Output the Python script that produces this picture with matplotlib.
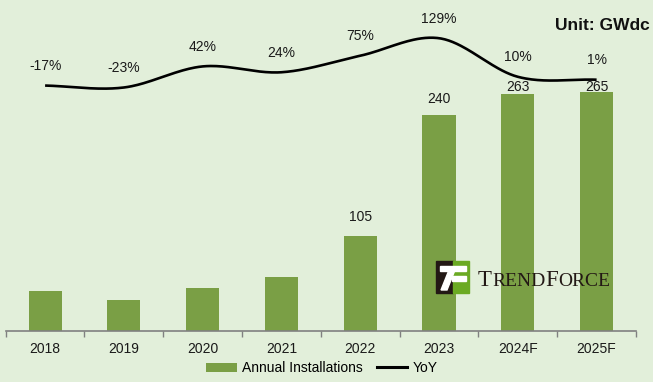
import numpy as np
import matplotlib
matplotlib.use("Agg")
import matplotlib.pyplot as plt
from matplotlib.patches import Rectangle, Polygon, Patch
from matplotlib.lines import Line2D

# data
years = ["2018", "2019", "2020", "2021", "2022", "2023", "2024F", "2025F"]
installs = [44, 34, 48, 60, 105, 240, 263, 265]
yoy = [-17, -23, 42, 24, 75, 129, 10, 1]
show_bar_label = [False, False, False, False, True, True, True, True]
# label lift above bar top, pixels (the original labels are hand placed)
bar_label_lift = [0, 0, 0, 0, 19, 16, 7, 5]

BG = "#E2EFDA"
BAR = "#7A9F45"
AXIS = "#808080"
FONT = ["Liberation Sans", "DejaVu Sans"]

W, H = 653, 382
fig = plt.figure(figsize=(W / 100, H / 100), dpi=100, facecolor=BG)


def fx(px):
    return px / W


def fy(py):
    return 1 - py / H


# smooth line like excel's "smoothed line" (catmull-rom through the points)
def smooth(xs, ys, n=40):
    pts = np.column_stack([xs, ys]).astype(float)
    p = np.vstack([2 * pts[0] - pts[1], pts, 2 * pts[-1] - pts[-2]])
    t = np.linspace(0, 1, n, endpoint=False)[:, None]
    out = []
    for i in range(1, len(p) - 2):
        p0, p1, p2, p3 = p[i - 1], p[i], p[i + 1], p[i + 2]
        out.append(0.5 * (2 * p1 + (-p0 + p2) * t
                          + (2 * p0 - 5 * p1 + 4 * p2 - p3) * t ** 2
                          + (-p0 + 3 * p1 - 3 * p2 + p3) * t ** 3))
    out.append(pts[-1:])
    seg = np.vstack(out)
    return seg[:, 0], seg[:, 1]


ax = fig.add_axes([fx(5.7), fy(331), fx(636) - fx(5.7), fy(10) - fy(331)])
ax.set_facecolor("none")
x = np.arange(len(years))
ax.bar(x, installs, width=0.42, color=BAR, zorder=2)
ax.set_xlim(-0.5, len(years) - 0.5)
ax.set_ylim(0, 356)
for s in ["top", "right", "left"]:
    ax.spines[s].set_visible(False)
ax.spines["bottom"].set_color(AXIS)
ax.spines["bottom"].set_linewidth(1.2)
ax.set_yticks([])
ax.set_xticks(np.arange(-0.5, len(years), 1))
ax.set_xticklabels([])
ax.tick_params(axis="x", which="major", length=4, width=1, color=AXIS, direction="out")
ax.set_xticks(x, minor=True)
ax.set_xticklabels(years, minor=True, fontsize=10, family=FONT, color="#1a1a1a")
ax.tick_params(axis="x", which="minor", length=0, pad=8)

for i, v in enumerate(installs):
    if show_bar_label[i]:
        ax.annotate(str(v), (x[i], v), xytext=(0, bar_label_lift[i] * 0.72),
                    textcoords="offset points", ha="center", va="center",
                    fontsize=10, family=FONT, color="#1a1a1a", zorder=4)

ax2 = ax.twinx()
ax2.set_ylim(-774, 216)
ax2.axis("off")
sx, sy = smooth(x, yoy)
ax2.plot(sx, sy, color="black", lw=1.9, zorder=3, solid_capstyle="butt")
for i, v in enumerate(yoy):
    ax2.annotate(f"{v}%", (x[i], v), xytext=(0, 14), textcoords="offset points",
                 ha="center", va="center", fontsize=10, family=FONT, color="#1a1a1a")

fig.text(fx(650), fy(25), "Unit: GWdc", ha="right", va="center", fontsize=12.5,
         family=FONT, color="#111111", fontweight="bold")

handles = [Patch(facecolor=BAR, edgecolor="none"),
           Line2D([], [], color="black", lw=2.2)]
fig.legend(handles, ["Annual Installations", "YoY"], loc="center",
           bbox_to_anchor=(fx(322), fy(368)), ncol=2, frameon=False,
           prop={"family": FONT, "size": 10}, handlelength=2.2,
           handleheight=0.6, columnspacing=1.0, handletextpad=0.4)

# TrendForce logo
lax = fig.add_axes([0, 0, 1, 1], zorder=5)
lax.set_xlim(0, W)
lax.set_ylim(H, 0)
lax.axis("off")
lax.patch.set_alpha(0)
lax.add_patch(Rectangle((436, 261), 17, 32, color="#231815"))
lax.add_patch(Rectangle((453, 261), 16, 32, color="#6BAA23"))
lax.add_patch(Rectangle((440, 266), 26, 4.5, color="white"))
lax.add_patch(Rectangle((452, 276), 14, 4.5, color="white"))
lax.add_patch(Polygon([[449, 270], [455, 270], [447, 290], [441, 290]], color="white"))

renderer = fig.canvas.get_renderer()
xpos = 478
for s, size in [("T", 16.5), ("REND", 14), ("F", 16.5), ("ORCE", 14)]:
    t = lax.text(xpos, 286, s, fontsize=size, family="Liberation Serif",
                 color="#231815", ha="left", va="baseline")
    xpos += t.get_window_extent(renderer).width

fig.savefig("out.png", dpi=100, facecolor=BG)
